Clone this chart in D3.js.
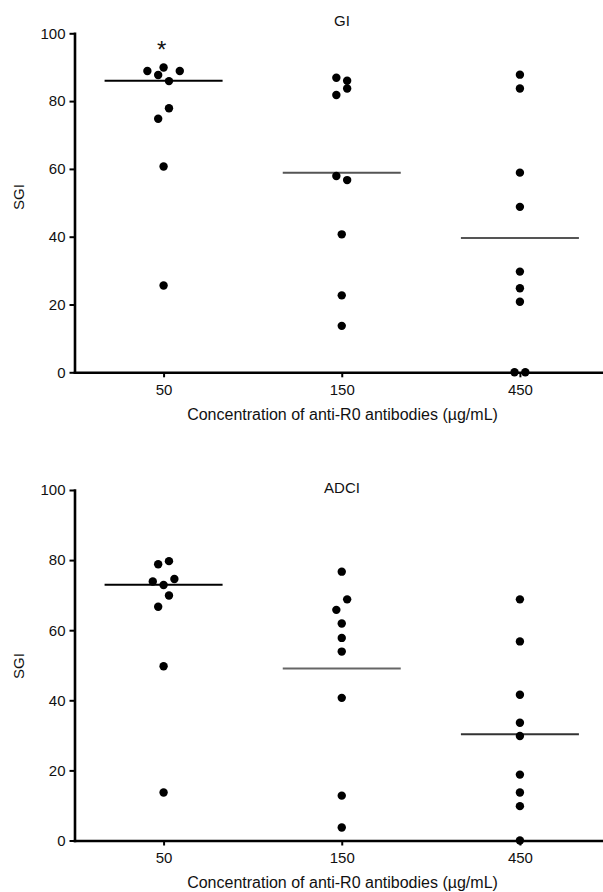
<!DOCTYPE html>
<html>
<head>
<meta charset="utf-8">
<script src="https://cdn.jsdelivr.net/npm/d3@7"></script>
<style>
  body { margin: 0; background: #fff; }
  text { font-family: "Liberation Sans", Arial, Helvetica, sans-serif; fill: #111; }
</style>
</head>
<body>
<div id="chart"></div>
<script>
// doses on the x axis
let doses = ["50", "150", "450"]
let yTicks = [0, 20, 40, 60, 80, 100]

// GI panel, one array per dose (order as plotted left to right within a row)
let gi50 = [89.9, 88.9, 87.7, 85.9, 88.9, 74.8, 77.9, 60.7, 25.6]
let gi150 = [86.9, 81.8, 86.0, 83.7, 57.9, 56.7, 40.7, 22.7, 13.7]
let gi450 = [87.8, 83.7, 58.9, 48.8, 29.7, 24.8, 20.8, 0, 0]
let giLine = [86.0, 58.9, 39.6]
let giMarks = ["*", "", ""]

// ADCI panel
let adci50 = [78.8, 79.7, 73.9, 72.9, 74.6, 66.7, 69.9, 49.7, 13.7]
let adci150 = [76.7, 65.8, 68.8, 61.9, 57.8, 53.9, 40.7, 12.8, 3.7]
let adci450 = [68.8, 56.8, 41.6, 33.6, 29.8, 18.8, 13.7, 9.8, 0]
let adciLine = [73.0, 49.1, 30.3]
let adciMarks = ["", "", ""]

let width = 603, height = 892
let axisX = 74.5
let dotR = 4.2
let dotStep = 10.8
let rowGap = 12
let lineHalf = 59

let panels = [
  {title: "GI", groups: [gi50, gi150, gi450], lines: giLine, marks: giMarks,
   top: 33.3, bottom: 372.3, titleY: 26, labelY: 197,
   lineColors: ["#000", "#555", "#555"]},
  {title: "ADCI", groups: [adci50, adci150, adci450], lines: adciLine, marks: adciMarks,
   top: 490, bottom: 840.5, titleY: 493, labelY: 666,
   lineColors: ["#000", "#666", "#333"]}
]

let svg = d3.select("#chart").append("svg")
  .attr("width", width)
  .attr("height", height)

let x = d3.scalePoint()
  .domain(doses)
  .range([axisX, 609])
  .padding(0.5)

// spread points that fall in the same row, like the prism scatter
function spread(values, y){
  let pts = values.map(function(v, i){ return {v: v, i: i, py: y(v)} })
  let sorted = pts.slice().sort(function(a, b){ return a.v - b.v || a.i - b.i })
  let rows = []
  sorted.forEach(function(p){
    let row = rows[rows.length - 1]
    if (!row || row[0].py - p.py > rowGap){
      rows.push([p])
    } else {
      row.push(p)
    }
  })
  rows.forEach(function(row){
    row.sort(function(a, b){ return a.i - b.i })
    row.forEach(function(p, k){
      p.dx = (k - (row.length - 1) / 2) * dotStep
    })
  })
  return pts
}

panels.forEach(function(p){

  let y = d3.scaleLinear()
    .domain([0, 100])
    .range([p.bottom, p.top])

  let g = svg.append("g")

  // median / mean lines
  g.selectAll(".midline")
    .data(p.lines)
    .enter().append("line")
    .attr("class", "midline")
    .attr("x1", function(d, i){ return x(doses[i]) - lineHalf })
    .attr("x2", function(d, i){ return x(doses[i]) + lineHalf })
    .attr("y1", function(d){ return y(d) })
    .attr("y2", function(d){ return y(d) })
    .attr("stroke", function(d, i){ return p.lineColors[i] })
    .attr("stroke-width", 2)

  let yAxis = g.append("g")
    .attr("transform", "translate(" + axisX + ",0)")
    .call(d3.axisLeft(y).tickValues(yTicks).tickSize(5).tickPadding(4).tickSizeOuter(0))

  let xAxis = g.append("g")
    .attr("transform", "translate(0," + p.bottom + ")")
    .call(d3.axisBottom(x).tickSize(5).tickPadding(7).tickSizeOuter(0))

  ;[yAxis, xAxis].forEach(function(ax){
    ax.select(".domain").attr("stroke", "#000").attr("stroke-width", 2.6).attr("stroke-linecap", "square")
    ax.selectAll(".tick line").attr("stroke", "#000").attr("stroke-width", 2)
    ax.selectAll(".tick text")
      .style("font-family", "'Liberation Sans', Arial, sans-serif")
      .style("font-size", "15px")
      .attr("fill", "#111")
  })

  // dots
  p.groups.forEach(function(vals, gi){
    let pts = spread(vals, y)
    g.selectAll(".dot" + gi)
      .data(pts)
      .enter().append("circle")
      .attr("class", "dot" + gi)
      .attr("cx", function(d){ return x(doses[gi]) + d.dx })
      .attr("cy", function(d){ return d.py })
      .attr("r", dotR)
      .attr("fill", "#000")
  })

  // significance marks
  g.selectAll(".mark")
    .data(p.marks)
    .enter().append("text")
    .attr("class", "mark")
    .attr("x", function(d, i){ return x(doses[i]) - 2 })
    .attr("y", function(d, i){ return y(d3.max(p.groups[i])) - 10 })
    .attr("text-anchor", "middle")
    .style("font-size", "24px")
    .text(function(d){ return d })

  g.append("text")
    .attr("x", 342)
    .attr("y", p.titleY)
    .attr("text-anchor", "middle")
    .style("font-size", "15px")
    .text(p.title)

  g.append("text")
    .attr("transform", "translate(23.5," + p.labelY + ") rotate(-90)")
    .attr("text-anchor", "middle")
    .style("font-size", "15px")
    .text("SGI")

  g.append("text")
    .attr("x", 342.5)
    .attr("y", p.bottom + 47.5)
    .attr("text-anchor", "middle")
    .style("font-size", "16px")
    .text("Concentration of anti-R0 antibodies (\u00b5g/mL)")
})
</script>
</body>
</html>
